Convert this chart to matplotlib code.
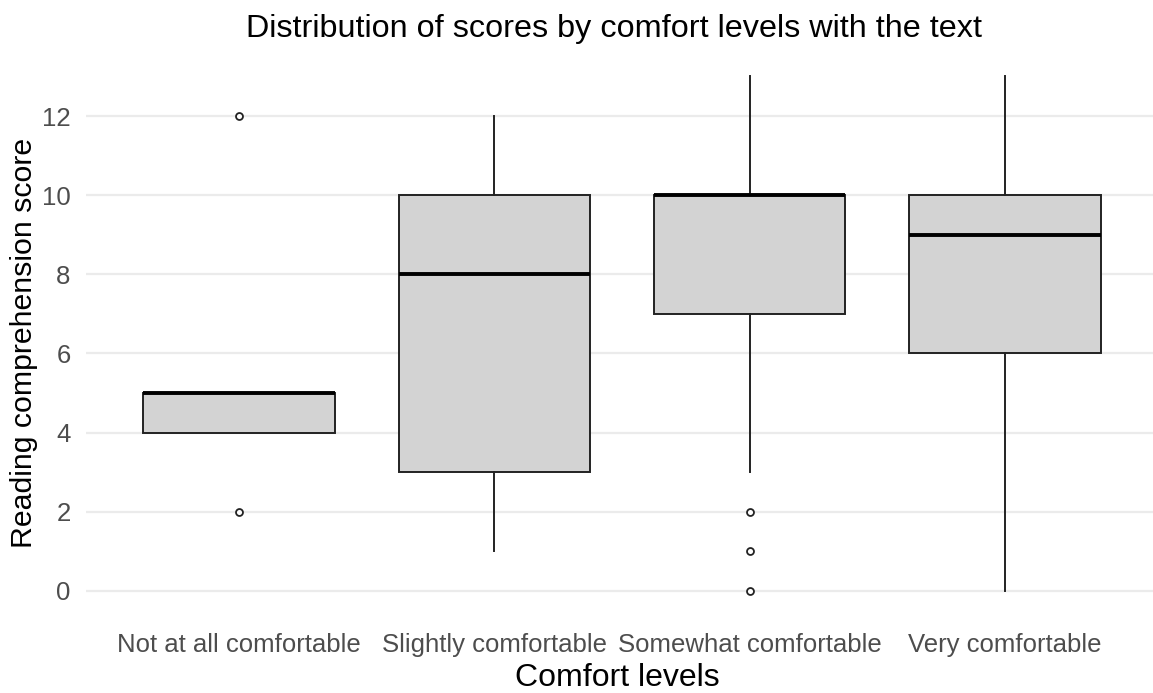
import matplotlib
matplotlib.use("Agg")
import matplotlib.pyplot as plt

categories = ["Not at all comfortable", "Slightly comfortable",
              "Somewhat comfortable", "Very comfortable"]
q1 = [4, 3, 7, 6]
median = [5, 8, 10, 9]
q3 = [5, 10, 10, 10]
whisker_low = [4, 1, 3, 0]
whisker_high = [5, 12, 13, 13]
outliers = [[12, 2], [], [2, 1, 0], []]
yticks = [0, 2, 4, 6, 8, 10, 12]

plt.rcParams['font.family'] = ['Liberation Sans', 'DejaVu Sans']

fig = plt.figure(figsize=(11.53, 6.93), dpi=100)
W, H = 1153, 693
left_px, right_px = 85.8, 1158.2
top_px, bot_px = 50.7, 616.7
ax = fig.add_axes([left_px / W, 1 - bot_px / H, (right_px - left_px) / W, (bot_px - top_px) / H])

stats = []
for i, c in enumerate(categories):
    stats.append(dict(label=c, q1=q1[i], med=median[i], q3=q3[i],
                      whislo=whisker_low[i], whishi=whisker_high[i], fliers=outliers[i]))

ax.bxp(stats, positions=range(1, len(categories) + 1), widths=0.75,
       patch_artist=True, showcaps=False,
       boxprops=dict(facecolor="#D3D3D3", edgecolor="#222222", linewidth=1.4),
       whiskerprops=dict(color="#222222", linewidth=1.4),
       medianprops=dict(color="black", linewidth=2.8, solid_capstyle="butt"),
       flierprops=dict(marker="o", markersize=5, markerfacecolor="white",
                       markeredgecolor="#222222", markeredgewidth=1.3))

ax.set_xlim(0.4, 4.6)
ax.set_ylim(-0.65, 13.65)
ax.set_yticks(yticks)
ax.set_yticklabels([str(v) for v in yticks])
ax.grid(axis="y", color="#EBEBEB", linewidth=1.6)
ax.grid(axis="x", visible=False)
ax.set_axisbelow(True)
for s in ax.spines.values():
    s.set_visible(False)
ax.tick_params(axis="both", length=0, labelsize=18.5, labelcolor="#4D4D4D")
ax.tick_params(axis="y", pad=11)
ax.tick_params(axis="x", pad=12)

fig.text(617.5 / W, 1 - 686 / H, "Comfort levels", ha="center", va="baseline",
         fontsize=23, color="black")
fig.text(24 / W, 1 - 343 / H, "Reading comprehension score", ha="center", va="center",
         rotation=90, fontsize=21.8, color="black")
fig.text(614.5 / W, 1 - 37 / H, "Distribution of scores by comfort levels with the text",
         ha="center", va="baseline", fontsize=23.3, color="black")

fig.savefig("out.png", dpi=100, facecolor="white")
